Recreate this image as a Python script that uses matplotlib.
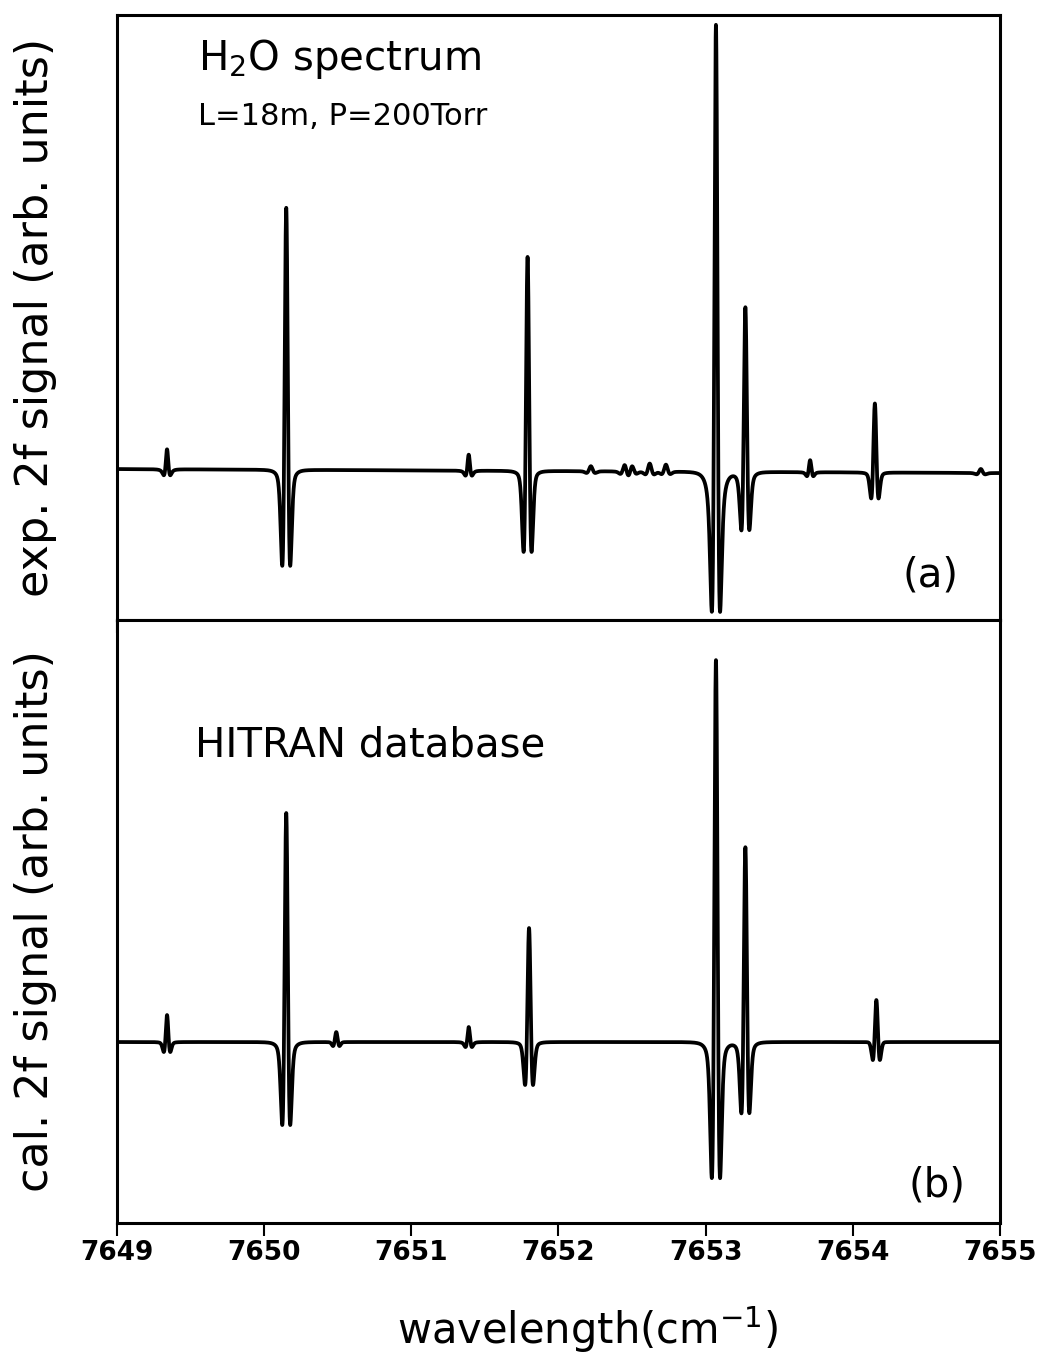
import numpy as np
import matplotlib
matplotlib.use('Agg')
import matplotlib.pyplot as plt

# --- data (pixel-derived units above the panel bottom) ---
# panel (a): experimental 2f spectrum
exp_center = [7649.34, 7650.15, 7651.39, 7651.79, 7653.07, 7653.27, 7653.71, 7654.15]
exp_peak   = [20, 262, 16, 214, 447, 165, 12, 69]
exp_dip    = [6, 96, 5, 81, 140, 58, 4, 26]
exp_width  = [0.022, 0.027, 0.022, 0.027, 0.028, 0.027, 0.022, 0.025]
exp_base   = (151, 147)   # baseline level at 7649 and at 7655
# small bumps of the measured trace (noise / weak lines)
bump_center = [7652.22, 7652.45, 7652.50, 7652.62, 7652.73, 7654.87]
bump_peak   = [5, 7, 6, 8, 7, 4]

# panel (b): HITRAN calculation
cal_center = [7649.34, 7650.15, 7650.49, 7651.39, 7651.80, 7653.07, 7653.27, 7654.16]
cal_peak   = [27, 229, 10, 15, 114, 382, 195, 42]
cal_dip    = [10, 83, 4, 5, 43, 136, 71, 18]
cal_width  = [0.022, 0.027, 0.022, 0.022, 0.027, 0.028, 0.027, 0.024]
cal_base   = 181

xticks = [7649, 7650, 7651, 7652, 7653, 7654, 7655]


def line2f(x, x0, peak, dip, w):
    # 2f (second-derivative) line shape, Lorentz/Gauss mix set by dip/peak ratio
    u = (x - x0) / w
    lor = (2 - 6 * u**2) / (1 + u**2)**3 / 2
    gau = (1 - 3 * u**2) * np.exp(-1.5 * u**2)
    m = np.clip((dip / peak - 0.25) / 0.196, 0, 1)
    return peak * ((1 - m) * lor + m * gau)


x = np.linspace(7649, 7655, 12001)

y_exp = np.linspace(exp_base[0], exp_base[1], x.size)
for c, p, d, w in zip(exp_center, exp_peak, exp_dip, exp_width):
    y_exp = y_exp + line2f(x, c, p, d, w)
for c, p in zip(bump_center, bump_peak):
    y_exp = y_exp + line2f(x, c, p, 0.35 * p, 0.03)

y_cal = np.full(x.size, float(cal_base))
for c, p, d, w in zip(cal_center, cal_peak, cal_dip, cal_width):
    y_cal = y_cal + line2f(x, c, p, d, w)

fig = plt.figure(figsize=(10.4, 13.55), dpi=100)
ax1 = fig.add_axes([0.1125, 0.5424, 0.849, 0.4465])
ax2 = fig.add_axes([0.1125, 0.0974, 0.849, 0.4450])

ax1.plot(x, y_exp, color='black', lw=2.7)
ax2.plot(x, y_cal, color='black', lw=2.7)

ax1.set_ylim(0, 605)
ax2.set_ylim(0, 603)
for ax in (ax1, ax2):
    ax.set_xlim(7649, 7655)
    ax.set_xticks(xticks)
    ax.set_yticks([])
    ax.tick_params(axis='x', direction='out', length=9, width=1.5)
    for s in ax.spines.values():
        s.set_linewidth(2.2)
ax1.tick_params(axis='x', labelbottom=False)
ax2.set_xticklabels([str(t) for t in xticks], fontsize=19, fontweight='bold')

ax1.set_ylabel('exp. 2f signal (arb. units)', fontsize=32)
ax2.set_ylabel('cal. 2f signal (arb. units)', fontsize=32)
ax1.yaxis.set_label_coords(-0.068, 0.5)
ax2.yaxis.set_label_coords(-0.068, 0.5)
fig.text(0.565, 0.019, 'wavelength(cm$^{-1}$)', fontsize=30, ha='center', va='center')

ax1.text(0.092, 0.909, 'H$_2$O spectrum', transform=ax1.transAxes, fontsize=29, va='baseline')
ax1.text(0.092, 0.818, 'L=18m, P=200Torr', transform=ax1.transAxes, fontsize=22, va='baseline')
ax1.text(0.921, 0.073, '(a)', transform=ax1.transAxes, fontsize=29, ha='center', va='center')
ax2.text(0.088, 0.773, 'HITRAN database', transform=ax2.transAxes, fontsize=29, va='baseline')
ax2.text(0.929, 0.063, '(b)', transform=ax2.transAxes, fontsize=29, ha='center', va='center')

plt.savefig('out.png', dpi=100)
plt.close()
